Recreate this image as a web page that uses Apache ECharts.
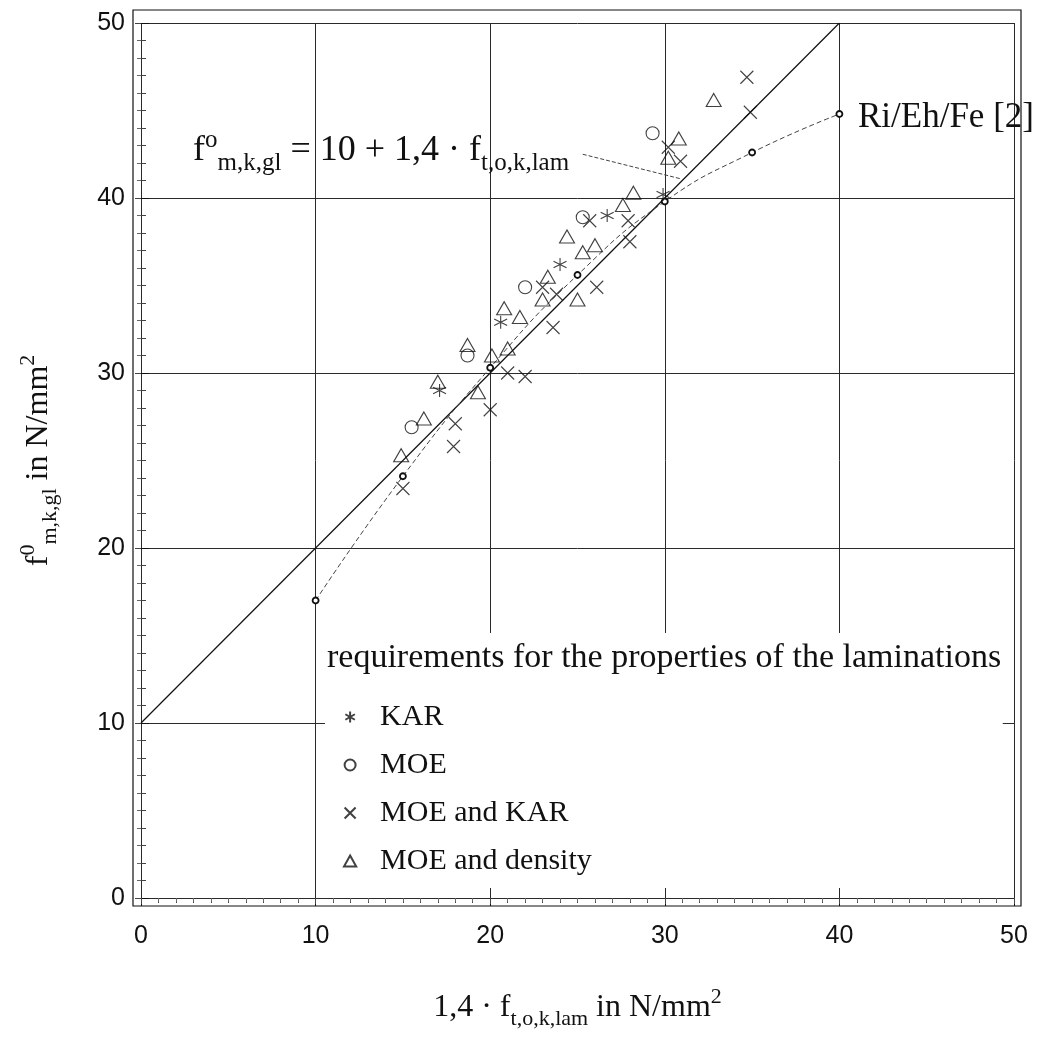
<!DOCTYPE html>
<html lang="en">
<head>
<meta charset="UTF-8">
<title>f0 m,k,gl versus 1,4 f t,o,k,lam</title>
<style>
  html, body { margin: 0; padding: 0; background: #fff; }
  #chart { width: 1047px; height: 1045px; }
</style>
<script src="https://cdn.jsdelivr.net/npm/echarts@6/dist/echarts.min.js"></script>
</head>
<body>
<div id="chart"></div>
<script>
// tick values of both axes
var xTicks = [0, 10, 20, 30, 40, 50];
var yTicks = [0, 10, 20, 30, 40, 50];

// requirement line f = 10 + 1,4 f_t
var designLine = [[0, 10], [40, 50]];
// Ri/Eh/Fe [2]
var riEhFe = [[10, 17.0], [15, 24.1], [20, 30.3], [25, 35.6], [30, 39.8], [35, 42.6], [40, 44.8]];
// leader from the formula to the line
var formulaLeader = [[25.3, 42.5], [30.9, 41.1]];

// measured points, [1,4*f_t,o,k,lam , f0_m,k,gl]
var kar = [[26.7, 39.0], [24.0, 36.2], [20.6, 32.9], [17.1, 29.0], [29.9, 40.2]];
var moe = [[29.3, 43.7], [25.3, 38.9], [22.0, 34.9], [18.7, 31.0], [15.5, 26.9]];
var moeKar = [
  [34.7, 46.9], [34.9, 44.9], [30.9, 42.1], [30.2, 42.9], [25.7, 38.7], [27.9, 38.7],
  [28.0, 37.5], [26.1, 34.9], [23.0, 34.9], [23.8, 34.5], [23.6, 32.6], [21.0, 30.0],
  [22.0, 29.8], [20.0, 27.9], [18.0, 27.1], [17.9, 25.8], [15.0, 23.4]
];
var moeDensity = [
  [32.8, 45.6], [30.8, 43.4], [30.2, 42.3], [28.2, 40.3], [27.6, 39.6], [24.4, 37.8],
  [26.0, 37.3], [25.3, 36.9], [23.3, 35.5], [23.0, 34.2], [25.0, 34.2], [20.8, 33.7],
  [21.7, 33.2], [18.7, 31.6], [21.0, 31.4], [20.1, 31.0], [19.3, 28.9], [17.0, 29.5],
  [16.2, 27.4], [14.9, 25.3]
];

var serif = 'Liberation Serif';
var sans = 'Liberation Sans';
var ink = '#111';

var starPath = 'path://M5,0L5,10M0.67,2.5L9.33,7.5M0.67,7.5L9.33,2.5';
var crossPath = 'path://M0,0L10,10M10,0L0,10';
var circlePath = 'path://M5,0A5,5 0 1,1 4.99,0Z';
var trianglePath = 'path://M5,0L10,9L0,9Z';

var subSup = {
  sup: { fontFamily: serif, fontSize: 22, color: ink, padding: [0, 0, 22, 0] },
  sub: { fontFamily: serif, fontSize: 22, color: ink, padding: [22, 0, 0, 0] }
};

var markerStyle = { color: 'transparent', borderColor: ink, borderWidth: 1.1 };

var chart = echarts.init(document.getElementById('chart'));

var option = {
  animation: false,
  backgroundColor: '#fff',
  grid: [
    { left: 141, right: 33, top: 23, bottom: 147, outerBoundsMode: 'none' },
    // outer frame
    { left: 133, right: 26, top: 10, bottom: 139, show: true, borderColor: ink, borderWidth: 1.2, outerBoundsMode: 'none' }
  ],
  xAxis: [
    {
      gridIndex: 0, type: 'value', position: 'bottom',
      min: xTicks[0], max: xTicks[xTicks.length - 1], interval: xTicks[1] - xTicks[0],
      offset: 8,
      axisLine: { show: false },
      axisTick: { show: true, length: 8, lineStyle: { color: ink } },
      minorTick: { show: true, splitNumber: 10, length: 5, lineStyle: { color: '#444' } },
      splitLine: { show: true, lineStyle: { color: '#2a2a2a', width: 1 } },
      axisLabel: { margin: 18, fontFamily: sans, fontSize: 25, color: ink },
      name: '1,4 · f{sub|t,o,k,lam} in N/mm{sup|2}',
      nameLocation: 'middle', nameGap: 80,
      nameTextStyle: { fontFamily: serif, fontSize: 32, color: ink, rich: subSup }
    },
    {
      gridIndex: 0, type: 'value', position: 'top',
      min: xTicks[0], max: xTicks[xTicks.length - 1], interval: xTicks[1] - xTicks[0],
      offset: 13,
      axisLine: { show: false },
      axisTick: { show: true, inside: true, length: 6, lineStyle: { color: '#444' } },
      minorTick: { show: true, splitNumber: 10, length: 4, lineStyle: { color: '#666' } },
      splitLine: { show: false },
      axisLabel: { show: false }
    },
    { gridIndex: 1, type: 'value', show: false, min: 0, max: 1 }
  ],
  yAxis: [
    {
      gridIndex: 0, type: 'value', position: 'left',
      min: yTicks[0], max: yTicks[yTicks.length - 1], interval: yTicks[1] - yTicks[0],
      offset: 8,
      axisLine: { show: false },
      axisTick: { show: true, inside: true, length: 8, lineStyle: { color: ink } },
      minorTick: { show: true, splitNumber: 10, length: 5, lineStyle: { color: '#444' } },
      splitLine: { show: true, lineStyle: { color: '#2a2a2a', width: 1 } },
      axisLabel: { margin: 8, fontFamily: sans, fontSize: 25, color: ink },
      name: 'f{sup|0}{sub|m,k,gl} in N/mm{sup|2}',
      nameLocation: 'middle', nameRotate: 90, nameGap: 72,
      nameTextStyle: { fontFamily: serif, fontSize: 32, color: ink, rich: subSup }
    },
    {
      gridIndex: 0, type: 'value', position: 'right',
      min: yTicks[0], max: yTicks[yTicks.length - 1], interval: yTicks[1] - yTicks[0],
      offset: 7,
      axisLine: { show: false },
      axisTick: { show: true, inside: true, length: 6, lineStyle: { color: '#444' } },
      minorTick: { show: true, splitNumber: 10, length: 4, lineStyle: { color: '#666' } },
      splitLine: { show: false },
      axisLabel: { show: false }
    },
    { gridIndex: 1, type: 'value', show: false, min: 0, max: 1 }
  ],
  title: {
    text: 'requirements for the properties of the laminations',
    left: 325, top: 633,
    padding: [8, 3, 19, 2],
    backgroundColor: '#fff',
    textStyle: { fontFamily: serif, fontSize: 34, fontWeight: 'normal', color: ink }
  },
  legend: {
    orient: 'vertical',
    left: 325, top: 694,
    padding: [8, 411, 12, 18],
    backgroundColor: '#fff',
    itemWidth: 50, itemHeight: 11, itemGap: 18,
    symbolKeepAspect: true,
    selectedMode: false,
    textStyle: { fontFamily: serif, fontSize: 30, color: ink, lineHeight: 30 },
    data: [
      { name: 'KAR', icon: starPath },
      { name: 'MOE', icon: circlePath },
      { name: 'MOE and KAR', icon: crossPath },
      { name: 'MOE and density', icon: trianglePath }
    ]
  },
  graphic: [
    {
      type: 'text', x: 193, y: 151, z: 10,
      style: {
        text: 'f{sup|o}{sub|m,k,gl} = 10 + 1,4 · f{sub|t,o,k,lam}',
        fontFamily: serif, fontSize: 36, fill: ink,
        verticalAlign: 'middle', align: 'left',
        rich: {
          sup: { fontFamily: serif, fontSize: 25, fill: ink, padding: [0, 0, 22, 0] },
          sub: { fontFamily: serif, fontSize: 25, fill: ink, padding: [24, 0, 0, 0] }
        }
      }
    },
    {
      type: 'text', x: 858, y: 118, z: 10,
      style: {
        text: 'Ri/Eh/Fe [2]',
        fontFamily: serif, fontSize: 35, fill: ink,
        verticalAlign: 'middle', align: 'left'
      }
    }
  ],
  series: [
    {
      name: 'design', type: 'line', data: designLine,
      symbol: 'none', silent: true, z: 2,
      lineStyle: { color: ink, width: 1.2 }
    },
    {
      name: 'Ri/Eh/Fe [2]', type: 'line', data: riEhFe,
      smooth: true, symbol: 'circle', symbolSize: 6, z: 2,
      itemStyle: { color: '#fff', borderColor: ink, borderWidth: 1.8 },
      lineStyle: { color: '#444', width: 1, type: [5, 3] }
    },
    {
      name: 'leader', type: 'line', data: formulaLeader,
      symbol: 'none', silent: true, z: 2,
      lineStyle: { color: '#444', width: 1, type: [4, 2] }
    },
    {
      name: 'KAR', type: 'scatter', data: kar,
      symbol: starPath, symbolSize: 13, itemStyle: markerStyle, z: 3
    },
    {
      name: 'MOE', type: 'scatter', data: moe,
      symbol: 'circle', symbolSize: 13, itemStyle: markerStyle, z: 3
    },
    {
      name: 'MOE and KAR', type: 'scatter', data: moeKar,
      symbol: crossPath, symbolSize: 13, itemStyle: markerStyle, z: 3
    },
    {
      name: 'MOE and density', type: 'scatter', data: moeDensity,
      symbol: 'triangle', symbolSize: [15, 13], itemStyle: markerStyle, z: 3
    }
  ]
};

chart.setOption(option);
</script>
</body>
</html>
